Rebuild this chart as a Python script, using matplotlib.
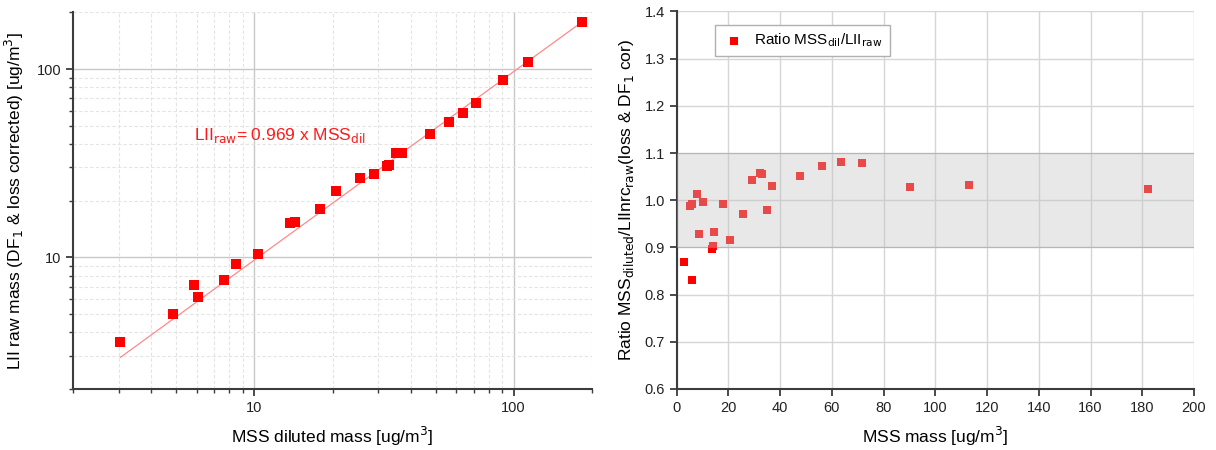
import numpy as np
import matplotlib.pyplot as plt
from matplotlib.ticker import FixedLocator, NullFormatter, LogLocator

plt.rcParams['font.family'] = ['Liberation Sans', 'DejaVu Sans']

# MSS diluted mass vs LII raw mass (ug/m3)
MSS_DIL = [3.04, 4.86, 5.82, 6.03, 7.63, 8.49, 10.3, 13.7, 14.3, 17.9, 20.7, 25.5,
           29.0, 32.4, 32.9, 35.2, 37.0, 47.6, 56.3, 63.6, 71.8, 90.6, 113.5, 183.6]
LII_RAW = [3.56, 4.99, 7.11, 6.17, 7.62, 9.22, 10.4, 15.3, 15.5, 18.1, 22.5, 26.4,
           27.7, 30.6, 31.1, 35.6, 35.9, 45.1, 52.1, 58.7, 66.4, 87.5, 108.9, 177.4]
SLOPE = 0.969

# ratio MSS / LII against MSS mass
MSS_MASS = [3.0, 5.0, 5.9, 6.1, 7.7, 8.6, 10.3, 13.7, 14.0, 14.4, 17.9, 20.6, 25.6,
            29.0, 32.3, 32.9, 34.9, 36.9, 47.5, 56.0, 63.7, 71.6, 90.1, 113.2, 182.4]
RATIO = [0.870, 0.987, 0.830, 0.991, 1.013, 0.928, 0.997, 0.897, 0.903, 0.933, 0.993,
         0.916, 0.971, 1.042, 1.057, 1.056, 0.980, 1.030, 1.052, 1.072, 1.082, 1.079,
         1.027, 1.032, 1.023]
BAND = (0.9, 1.1)

SPINE_C = '#3c3c3c'

fig = plt.figure(figsize=(12.16, 4.5), dpi=100)
ax1 = fig.add_axes([0.0603, 0.1356, 0.4263, 0.837])
ax2 = fig.add_axes([0.5565, 0.1356, 0.4254, 0.839])

for ax in (ax1, ax2):
    for s in ('top', 'right'):
        ax.spines[s].set_visible(False)
    for s in ('left', 'bottom'):
        ax.spines[s].set_color(SPINE_C)
        ax.spines[s].set_linewidth(1.5)
    ax.tick_params(which='major', direction='out', length=5, width=1.3,
                   color=SPINE_C, labelsize=10.5, labelcolor='#222222')
    ax.tick_params(which='minor', direction='out', length=3, width=1.0, color=SPINE_C)
    ax.set_axisbelow(True)

# --- left: log-log scatter with fit line
ax1.set_xscale('log')
ax1.set_yscale('log')
ax1.set_xlim(2, 200)
ax1.set_ylim(2, 200)
for axis in (ax1.xaxis, ax1.yaxis):
    axis.set_major_locator(FixedLocator([10, 100]))
    axis.set_major_formatter(plt.FuncFormatter(lambda v, p: f"{v:g}"))
    axis.set_minor_locator(LogLocator(base=10, subs=np.arange(2, 10)))
    axis.set_minor_formatter(NullFormatter())
ax1.grid(which='major', color='#c8c8c8', linewidth=1.0)
ax1.grid(which='minor', color='#e4e4e4', linewidth=0.8, linestyle=(0, (3, 2)))

xfit = np.array([MSS_DIL[0], MSS_DIL[-1]])
ax1.plot(xfit, SLOPE * xfit, color='#ff8a8a', linewidth=0.9, zorder=2)
ax1.scatter(MSS_DIL, LII_RAW, marker='s', s=44, color='#ff0000', linewidths=0, zorder=3)
ax1.text(5.82, 44.3, r'LII$_{\mathrm{raw}}$= 0.969 x MSS$_{\mathrm{dil}}$', color='#ff1a1a',
         fontsize=12.5, va='center', ha='left')

ax1.set_xlabel(r'MSS diluted mass [ug/m$^3$]', fontsize=12.5, labelpad=7)
ax1.set_ylabel(r'LII raw mass (DF$_1$ & loss corrected) [ug/m$^3$]', fontsize=12.5, labelpad=8)

# --- right: ratio with +-10 % band
ax2.set_xlim(0, 200)
ax2.set_ylim(0.6, 1.4)
ax2.set_xticks(np.arange(0, 201, 20))
ax2.set_yticks(np.arange(0.6, 1.41, 0.1))
ax2.yaxis.set_major_formatter(plt.FuncFormatter(lambda v, p: f"{v:.1f}"))
ax2.grid(which='major', color='#d6d6d6', linewidth=1.0)

ax2.scatter(MSS_MASS, RATIO, marker='s', s=40, color='#ff0000', linewidths=0, zorder=3,
            label=r'Ratio MSS$_{\mathrm{dil}}$/LII$_{\mathrm{raw}}$')
ax2.axhspan(BAND[0], BAND[1], facecolor='#c3c3c3', alpha=0.38, edgecolor='#8a8a8a',
            linewidth=0.8, zorder=4)

leg = ax2.legend(loc='upper left', bbox_to_anchor=(0.06, 0.985), fontsize=11,
                 frameon=True, fancybox=False, edgecolor='#b0b0b0', framealpha=1,
                 handletextpad=0.5, borderpad=0.45, markerscale=0.9, handlelength=1.6)
leg.get_frame().set_linewidth(1.0)

ax2.set_xlabel(r'MSS mass [ug/m$^3$]', fontsize=12.5, labelpad=7)
ax2.set_ylabel(r'Ratio MSS$_{\mathrm{diluted}}$/LIInrc$_{\mathrm{raw}}$(loss & DF$_1$ cor)',
               fontsize=12.5, labelpad=6)

fig.savefig('out.png', dpi=100)
